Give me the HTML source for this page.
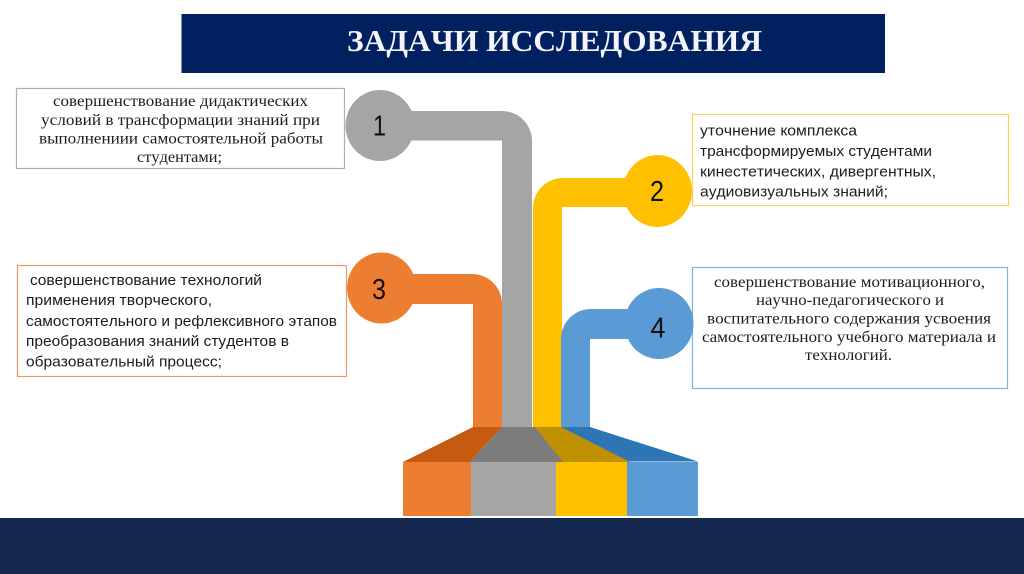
<!DOCTYPE html>
<html lang="ru">
<head>
<meta charset="utf-8">
<title>Задачи исследования</title>
<style>
html,body{margin:0;padding:0;background:#fff;width:1024px;height:574px;overflow:hidden}
svg{display:block}
text{font-kerning:none}
.s{font-family:"Liberation Serif","Noto Serif CJK SC",serif;font-size:16px;fill:#1c1c1c}
.a{font-family:"Liberation Sans","Noto Sans CJK SC",sans-serif;font-size:14.5px;fill:#1c1c1c}
.n{font-family:"Liberation Sans","Noto Sans CJK SC",sans-serif;font-size:28.5px;fill:#111}
</style>
</head>
<body>
<svg width="1024" height="574" viewBox="0 0 1024 574" xmlns="http://www.w3.org/2000/svg">
<rect width="1024" height="574" fill="#fff"/>

<!-- header and footer -->
<rect x="181.500" y="14" width="703.500" height="59" fill="#002060"/>
<text x="347" y="51" font-family="'Liberation Serif',serif" font-weight="bold" font-size="31" fill="#f4f4f8" textLength="415" lengthAdjust="spacingAndGlyphs">ЗАДАЧИ ИССЛЕДОВАНИЯ</text>
<rect x="0" y="518" width="1024" height="56" fill="#14284f"/>

<!-- text boxes -->
<rect x="16.500" y="88.500" width="328" height="80" fill="#fff" stroke="#b0b0b0" stroke-width="1.200"/>
<rect x="692.500" y="114.500" width="316" height="91" fill="#fff" stroke="#ffd050" stroke-width="1.200"/>
<rect x="17.500" y="265.500" width="329" height="111" fill="#fff" stroke="#ef9a66" stroke-width="1.200"/>
<rect x="692.500" y="267.500" width="315" height="121" fill="#fff" stroke="#82b2df" stroke-width="1.200"/>

<!-- connectors -->
<path d="M380 111H502A30 30 0 0 1 532 141V430H502V140.500H380Z" fill="#a5a5a5"/>
<path d="M657 178H563A30 30 0 0 0 533 208V430H562V207H657Z" fill="#ffc000"/>
<path d="M381 274H472A30 30 0 0 1 502 304V430H473V304H381Z" fill="#ed7d31"/>
<path d="M659 309H591A30 30 0 0 0 561 339V430H590V339H659Z" fill="#5b9bd5"/>

<!-- circles -->
<ellipse cx="380" cy="125.500" rx="34.500" ry="35.500" fill="#a5a5a5"/>
<ellipse cx="657.500" cy="191" rx="34.500" ry="36" fill="#ffc000"/>
<ellipse cx="381.500" cy="288" rx="34.500" ry="35.500" fill="#ed7d31"/>
<ellipse cx="659" cy="323.500" rx="34.500" ry="35.500" fill="#5b9bd5"/>
<text class="n" x="373" y="135.500" textLength="13" lengthAdjust="spacingAndGlyphs">1</text>
<text class="n" x="650" y="201" textLength="14" lengthAdjust="spacingAndGlyphs">2</text>
<text class="n" x="372" y="299" textLength="14" lengthAdjust="spacingAndGlyphs">3</text>
<text class="n" x="650.500" y="337.500" textLength="15" lengthAdjust="spacingAndGlyphs">4</text>

<!-- base -->
<polygon points="473,427 502,427 470,462 403,462" fill="#c55a11"/>
<polygon points="561,427 590,427 698,461.500 627,461.500" fill="#2e75b6"/>
<polygon points="535,427 561,427 630,462 556,462" fill="#bf9000"/>
<polygon points="502,427 535,427 563,462 470,462" fill="#7c7c7c"/>
<rect x="403" y="462" width="68" height="54" fill="#ed7d31"/>
<rect x="471" y="462" width="85" height="54" fill="#a5a5a5"/>
<rect x="556" y="462" width="71" height="54" fill="#ffc000"/>
<rect x="627" y="462" width="71" height="54" fill="#5b9bd5"/>

<!-- box 1 text -->
<text class="s" x="53" y="106" textLength="255" lengthAdjust="spacingAndGlyphs">совершенствование дидактических</text>
<text class="s" x="41" y="125" textLength="279" lengthAdjust="spacingAndGlyphs">условий в трансформации знаний при</text>
<text class="s" x="39" y="143.500" textLength="284" lengthAdjust="spacingAndGlyphs">выполнениии самостоятельной работы</text>
<text class="s" x="137" y="162" textLength="85" lengthAdjust="spacingAndGlyphs">студентами;</text>

<!-- box 2 text -->
<text class="a" x="700" y="135.500" textLength="157" lengthAdjust="spacingAndGlyphs">уточнение комплекса</text>
<text class="a" x="700" y="156" textLength="232" lengthAdjust="spacingAndGlyphs">трансформируемых студентами</text>
<text class="a" x="700" y="176.500" textLength="236" lengthAdjust="spacingAndGlyphs">кинестетических, дивергентных,</text>
<text class="a" x="700" y="196.500" textLength="188" lengthAdjust="spacingAndGlyphs">аудиовизуальных знаний;</text>

<!-- box 3 text -->
<text class="a" x="30" y="285" textLength="232" lengthAdjust="spacingAndGlyphs">совершенствование технологий</text>
<text class="a" x="26" y="305" textLength="186" lengthAdjust="spacingAndGlyphs">применения творческого,</text>
<text class="a" x="26" y="326" textLength="311" lengthAdjust="spacingAndGlyphs">самостоятельного и рефлексивного этапов</text>
<text class="a" x="26" y="346" textLength="263" lengthAdjust="spacingAndGlyphs">преобразования знаний студентов в</text>
<text class="a" x="26" y="366.500" textLength="196" lengthAdjust="spacingAndGlyphs">образовательный процесс;</text>

<!-- box 4 text -->
<text class="s" x="714" y="287" textLength="271" lengthAdjust="spacingAndGlyphs">совершенствование мотивационного,</text>
<text class="s" x="756" y="305" textLength="188" lengthAdjust="spacingAndGlyphs">научно-педагогического и</text>
<text class="s" x="707" y="323.500" textLength="284" lengthAdjust="spacingAndGlyphs">воспитательного содержания усвоения</text>
<text class="s" x="702" y="342" textLength="294" lengthAdjust="spacingAndGlyphs">самостоятельного учебного материала и</text>
<text class="s" x="805" y="360" textLength="87" lengthAdjust="spacingAndGlyphs">технологий.</text>
</svg>
</body>
</html>
